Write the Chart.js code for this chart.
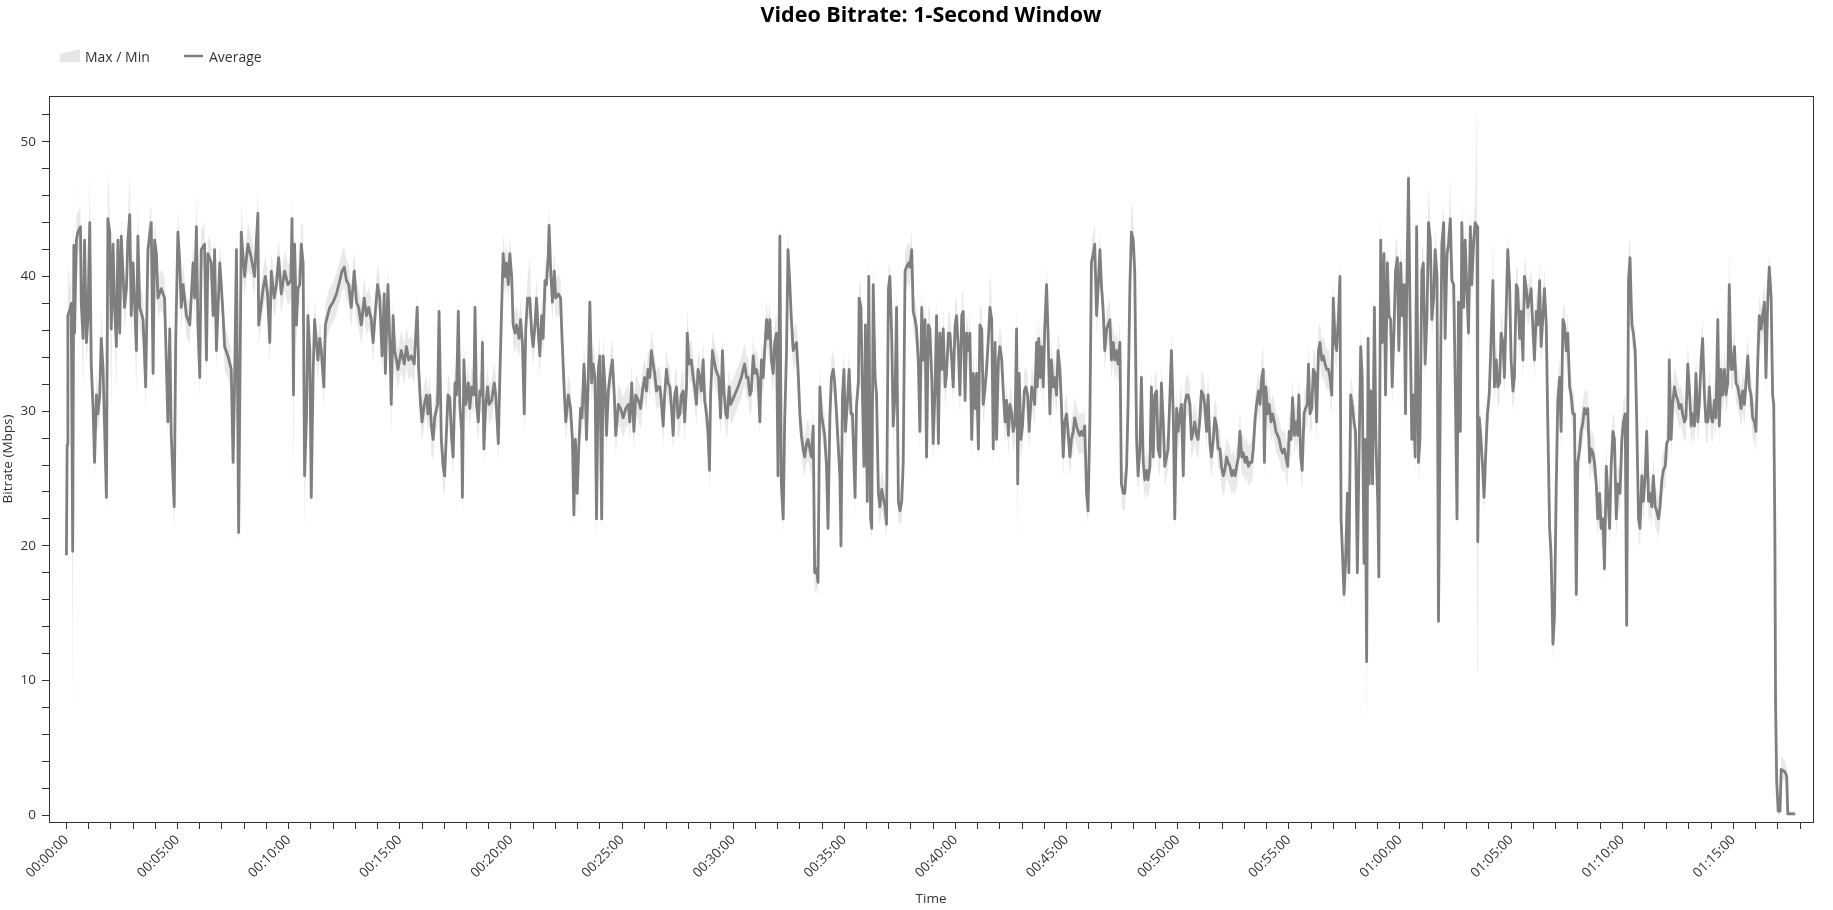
<!DOCTYPE html>
<html>
<head>
<meta charset="utf-8">
<title>Video Bitrate: 1-Second Window</title>
<script src="https://cdn.jsdelivr.net/npm/chart.js@4.4.1/dist/chart.umd.min.js"></script>
<style>
  html, body { margin: 0; padding: 0; background: #fff; }
  canvas { display: block; }
</style>
</head>
<body>
<canvas id="bitrate_chart" width="1833" height="910"></canvas>
<script>
// ---- data ----
const chartTitle = 'Video Bitrate: 1-Second Window';
const legendLabels = ['Max / Min', 'Average'];
const xAxisTitle = 'Time';
const yAxisTitle = 'Bitrate (Mbps)';

// playback time in seconds
const seconds = [
  0,2,4,9,13,17,20,22,27,31,
  38,40,45,49,54,58,63,67,72,76,
  81,85,90,94,99,108,112,117,121,126,
  130,135,139,144,148,157,162,166,171,175,
  180,189,193,198,207,214,220,229,234,238,
  243,247,256,265,274,279,283,291,295,301,
  306,310,315,324,333,342,346,351,355,360,
  364,373,378,382,391,396,400,405,414,418,
  423,427,436,445,450,454,459,465,472,481,
  490,499,508,
  513,517,519,525,531,537,543,549,553,561,
  567,573,580,589,598,606,609,613,616,621,
  625,630,634,639,643,648,652,657,661,666,
  670,675,679,684,688,695,699,705,711,720,
  729,738,744,750,756,762,769,777,783,789,
  796,804,810,816,823,828,834,840,846,852,
  858,861,868,873,877,882,886,891,895,904,
  912,918,924,931,939,947,951,956,960,966,
  972,976,981,985,990,994,1002,1006,1012,1017,
  1021,1026,1030,
  1035,1040,1044,1049,1053,1058,1062,1067,1069,1073,
  1078,1085,1089,1094,1100,1103,1107,1112,1116,1121,
  1123,1127,1132,1137,1141,1148,1155,1159,1166,1170,
  1175,1179,1184,1188,1193,1197,1202,1206,1211,1215,
  1222,1226,1231,1236,1240,1245,1251,1256,1260,1265,
  1269,1274,1278,1283,1287,1292,1296,1301,1303,1308,
  1312,1317,1321,1328,1334,1338,1344,1348,1355,1361,
  1366,1370,1374,1379,1383,1388,1392,1397,1400,1404,
  1409,1413,1418,1422,1427,1431,1436,1440,1445,1449,
  1454,1458,1463,1467,1474,1479,1483,1490,1496,1503,
  1510,1517,1521,1526,1532,1537,1544,1550,1555,
  1561,1566,1570,1575,1579,1584,1588,1593,1597,1602,
  1606,1611,1615,1620,1624,1629,1633,1638,1642,1647,
  1651,1656,1660,1665,1669,1674,1676,1681,1687,1692,
  1696,1701,1705,1710,1714,1719,1723,1728,1732,1736,
  1739,1744,1748,1753,1757,1761,1766,1771,1775,1780,
  1784,1789,1793,1798,1804,1813,1822,1827,1831,1836,
  1840,1845,1849,1854,1858,1863,1867,1872,1876,1881,
  1885,1890,1894,1899,1903,1908,1912,1917,1921,1926,
  1930,1935,1939,1944,1948,1953,1957,1962,1966,1971,
  1975,1980,1984,1989,1993,1998,2002,2007,2011,2016,
  2020,2025,2029,2034,2038,2043,2047,2052,2056,2061,
  2065,2070,2074,2079,
  2088,2091,2095,2099,2103,2108,2113,2118,2122,2129,
  2133,2138,2140,2145,2148,2153,2157,2162,2166,2171,
  2174,2178,2183,2187,2192,2196,2201,2205,2210,2214,
  2219,2223,2228,2232,2237,2241,2246,2250,2255,2259,
  2264,2268,2273,2277,2282,2286,2291,2295,2300,2304,
  2309,2313,2318,2322,2327,2331,2336,2340,2345,2349,
  2354,2358,2363,2367,2372,2376,2381,2385,2390,2394,
  2399,2403,2408,2412,2417,2421,2426,2430,2435,2439,
  2444,2448,2453,2457,2462,2466,2471,2475,2480,2484,
  2489,2493,2498,2502,2507,2511,2516,2520,2525,2529,
  2534,2538,2543,2547,2552,2556,2561,2565,2568,2572,
  2577,2581,2586,2590,2595,2599,2606,2610,
  2614,2619,2621,2625,2629,2632,2637,2641,2646,2650,
  2655,2659,2664,2668,2673,2677,2682,2686,2691,2695,
  2700,2704,2709,2713,2718,2722,2727,2731,2736,2740,
  2745,2749,2754,2758,2763,2767,2772,2776,2781,2785,
  2790,2794,2799,2803,2808,2812,2817,2821,2826,2830,
  2835,2839,2844,2848,2853,2857,2862,2866,2871,2875,
  2880,2884,2889,2893,2898,2902,2907,2911,2916,2920,
  2925,2929,2934,2938,2943,2947,2952,2956,2961,2965,
  2970,2974,2979,2983,2988,2992,2997,3001,3006,3010,
  3015,3019,3024,3028,3033,3037,3042,3046,3051,3055,
  3060,3064,3069,3073,3078,3082,3087,3091,3096,3100,
  3105,3109,3114,3118,3123,3127,3132,3136,
  3141,3146,3150,3155,3159,3164,3168,3173,3177,3182,
  3186,3191,3195,3200,3204,3209,3213,3218,3222,3227,
  3231,3234,3238,3243,3247,3252,3256,3261,3265,3270,
  3274,3279,3283,3288,3292,3297,3301,3306,3310,3315,
  3319,3324,3327,3332,3336,3341,3345,3350,3353,3357,
  3362,3366,3371,3375,3380,3384,3389,3393,3398,3402,
  3407,3411,3416,3420,3425,3429,3434,3438,3441,3444,
  3449,3453,3458,3462,3467,3471,3476,3480,3485,3489,
  3494,3498,3503,3506,3510,3514,3517,3521,3526,3531,
  3535,3540,3543,3548,3552,3557,3561,3566,3570,3575,
  3579,3584,3588,3593,3597,3602,3606,3611,3615,3618,
  3623,3627,3632,3636,3641,3645,3650,3654,3659,3663,
  3668,3673,3677,3682,3686,3691,3695,3700,3704,3709,
  3713,3718,3722,3727,3731,3736,3740,3745,3749,3754,
  3758,3763,3767,3772,3776,3781,3785,3790,3794,3799,
  3803,3808,3810,3814,3818,3823,3827,3832,3836,3841,
  3845,3851,3855,3860,3864,3869,3873,3878,3882,3887,
  3891,3896,3900,3905,3909,3914,3918,3923,3927,3932,
  3936,3941,3945,3950,3954,3959,3963,3968,3972,3977,
  3981,3986,3990,3995,3999,4004,4008,4013,4017,4022,
  4026,4031,4035,4040,4044,4049,4053,4058,4062,4067,
  4071,4076,4080,4085,4089,4094,4098,4103,4107,4112,
  4116,4121,4125,4130,4134,4139,4143,4148,4152,4157,
  4161,4166,4170,4175,4179,4184,4188,
  4194,4199,4203,4208,4212,4217,4221,4226,4230,4235,
  4239,4244,4248,4253,4257,4262,4266,4271,4275,4280,
  4284,4289,4293,4298,4302,4307,4311,4316,4320,4325,
  4327,4332,4336,4341,4345,4350,4354,4359,4363,4368,
  4372,4377,4381,4386,4390,4395,4399,4404,4408,4413,
  4417,4422,4426,4431,4435,4440,4444,4449,4453,4458,
  4462,4467,4471,4476,4480,4485,4489,4494,4498,4503,
  4507,4512,4516,4521,4525,4530,4534,4539,4543,4548,
  4552,4557,4561,4566,4570,4575,4579,4584,4588,4593,
  4597,4602,4606,4609,4612,4614,4617,4621,4626,4629,
  4635,4640,4644,4647,4653,4667
];

// average bitrate, Mbps
const avgMbps = [
  19.3,27.5,37.1,37.5,38.0,19.6,42.3,35.8,42.7,43.3,
  43.7,38.1,35.4,42.7,35.1,36.8,44.0,33.5,30.2,26.2,
  31.2,29.8,31.2,35.4,33.1,23.6,44.3,43.3,36.1,42.4,
  37.7,34.8,42.7,35.8,43.0,37.7,39.1,42.7,44.6,37.1,
  41.0,34.5,43.0,37.7,36.8,31.8,42.0,44.0,32.8,42.7,
  41.7,38.4,39.1,38.4,29.2,36.1,28.2,22.9,35.1,43.3,
  41.0,37.7,39.4,37.1,36.4,41.0,38.4,43.7,36.4,32.5,
  42.0,42.4,33.8,41.7,41.0,37.1,42.0,34.5,41.0,39.4,
  37.1,34.8,34.1,33.1,26.2,32.1,42.0,21.0,43.3,40.0,
  42.4,41.4,40.0,
  42.7,44.7,36.4,37.7,39.1,40.0,38.7,35.1,40.4,38.4,
  39.4,41.4,38.7,40.4,39.4,39.7,44.3,31.2,42.4,36.4,
  39.1,39.4,42.4,41.0,25.2,29.5,37.1,34.5,23.6,32.8,
  36.8,35.1,33.8,35.4,34.5,31.8,36.4,37.1,37.7,38.1,
  38.7,39.7,40.4,40.7,39.7,39.4,37.7,40.4,38.1,37.7,
  36.4,38.4,37.1,37.7,36.8,35.1,37.4,39.4,38.4,34.1,
  38.7,32.8,39.4,35.1,30.5,37.1,34.5,33.8,33.1,34.5,
  33.5,34.8,33.8,34.1,33.5,37.7,33.1,30.5,29.2,30.5,
  31.2,29.8,31.2,28.9,27.9,29.5,30.5,37.4,27.9,25.9,
  25.2,28.5,31.2,
  31.0,27.9,26.6,32.1,31.2,37.4,30.5,28.5,23.6,33.8,
  30.5,32.1,30.2,31.8,31.2,37.7,30.5,29.2,31.5,31.2,
  35.1,27.2,30.5,31.8,30.5,30.8,32.1,31.2,27.6,32.5,
  37.7,41.7,40.0,41.0,39.4,41.7,40.0,36.4,35.8,36.4,
  35.4,36.8,35.1,29.8,36.1,38.4,38.4,35.8,34.8,36.4,
  38.4,35.8,34.1,37.1,35.4,39.7,39.4,41.7,43.8,40.0,
  38.1,40.4,38.4,38.7,38.4,35.4,31.5,29.2,31.2,30.2,
  27.9,22.3,27.9,23.9,27.2,30.2,29.5,33.5,32.1,27.9,
  32.5,38.1,32.1,33.5,32.5,22.0,33.1,34.1,22.0,34.1,
  31.8,28.2,31.5,32.5,33.8,31.2,28.2,30.5,30.2,29.5,
  30.2,30.5,29.2,32.1,28.5,31.2,30.8,30.2,31.5,
  32.5,31.5,33.1,32.5,34.5,33.5,32.8,31.5,31.8,31.8,
  30.8,28.9,31.2,33.1,32.1,31.8,30.5,28.2,31.2,31.8,
  29.5,29.8,31.2,31.5,29.2,31.8,35.8,33.5,33.8,32.5,
  31.8,30.5,33.1,32.5,31.5,33.8,30.8,29.8,28.5,25.6,
  31.2,34.5,33.8,33.1,32.8,32.5,29.5,34.5,31.5,29.8,
  29.5,31.8,30.5,30.8,31.2,31.8,32.5,33.1,33.5,32.5,
  32.5,31.2,31.5,34.1,32.8,33.1,32.5,29.2,33.8,32.5,
  34.5,36.8,35.4,36.8,33.8,32.8,35.1,35.8,25.2,43.0,
  24.6,22.0,29.2,34.5,42.0,39.4,36.8,34.5,34.8,35.1,
  33.1,29.8,28.2,27.2,26.6,27.6,27.9,27.2,26.6,28.9,
  18.0,18.3,17.3,31.8,29.8,28.9,28.2,25.9,21.3,29.5,
  32.5,33.1,32.1,29.8,
  25.2,20.0,31.1,33.1,28.5,30.5,33.1,29.8,29.8,23.6,
  30.5,32.1,38.4,37.7,32.5,25.9,36.4,23.3,40.0,22.0,
  21.3,39.4,32.5,31.2,23.9,22.9,24.2,23.6,22.9,21.6,
  39.1,40.0,35.4,28.9,31.2,37.7,23.3,22.6,23.3,26.2,
  40.4,40.7,41.0,40.7,42.0,37.4,36.8,36.1,33.5,28.5,
  37.7,33.8,36.8,26.6,36.4,36.1,32.5,27.6,31.8,37.1,
  27.6,35.8,33.1,36.1,31.8,32.8,35.8,35.8,33.8,31.8,
  36.4,37.1,34.5,31.2,37.1,37.4,30.8,35.8,34.5,35.8,
  27.9,32.8,30.2,32.8,27.2,36.4,36.1,30.5,31.8,33.1,
  35.4,37.7,36.8,27.2,35.1,27.9,33.8,34.8,33.8,31.5,
  29.2,30.8,28.2,30.5,29.8,28.5,29.2,36.1,24.6,32.8,
  27.9,28.9,31.5,31.8,31.2,28.5,31.8,31.2,
  30.5,35.1,31.8,35.4,32.5,34.8,31.8,36.1,39.4,35.8,
  29.8,33.8,31.8,32.5,31.2,34.5,33.1,30.5,26.6,29.2,
  29.8,28.5,26.6,27.9,28.5,29.5,28.9,28.5,28.2,28.5,
  28.2,28.9,23.9,22.6,29.5,41.0,41.7,42.4,37.1,39.1,
  42.0,39.4,37.4,34.5,36.1,36.4,36.8,33.8,35.1,33.8,
  34.5,33.5,35.1,24.6,23.9,23.9,25.9,30.5,39.4,43.3,
  42.7,40.4,27.9,25.2,27.2,32.5,26.2,24.9,25.6,24.9,
  25.9,31.8,26.6,31.2,31.5,27.2,26.6,32.1,29.2,25.9,
  26.6,27.2,31.2,34.5,29.8,22.0,30.2,28.5,29.8,30.5,
  25.2,30.5,31.2,31.2,30.5,27.9,28.5,29.2,28.2,27.9,
  29.5,31.5,31.2,30.5,28.5,31.2,27.6,26.6,27.9,29.5,
  28.9,27.2,27.2,25.9,25.2,25.6,26.6,26.2,
  25.9,25.2,25.6,25.2,25.9,26.6,28.5,26.6,26.9,26.2,
  26.6,25.9,26.2,26.2,27.2,29.5,30.5,31.5,30.5,32.5,
  33.1,26.2,31.8,29.8,30.5,29.2,29.8,29.2,28.5,28.2,
  27.9,27.2,26.9,27.2,26.6,25.9,28.5,27.9,31.0,28.2,
  29.2,28.2,31.2,26.6,25.6,29.8,30.2,30.5,33.5,29.8,
  30.2,33.1,32.8,29.2,34.5,35.1,33.8,34.1,33.5,33.1,
  33.1,32.5,31.2,38.4,35.1,34.5,37.1,40.0,22.0,20.0,
  16.4,18.7,23.9,18.0,31.2,30.5,29.2,28.5,18.0,25.9,
  34.8,32.5,18.7,27.9,11.4,35.4,24.6,31.5,24.6,37.7,
  27.9,23.3,17.7,42.7,35.1,41.7,31.2,41.0,37.1,36.8,
  31.8,36.1,40.4,41.4,34.5,41.0,37.1,39.4,29.8,38.4,
  47.3,37.7,27.9,31.2,26.6,43.7,26.2,27.9,40.4,41.0,
  33.5,37.1,44.0,42.7,36.8,38.4,42.0,40.0,14.4,31.2,
  42.4,44.0,35.4,41.7,42.4,44.3,39.7,39.4,32.5,22.0,
  38.1,28.5,44.0,37.7,42.7,38.7,35.8,43.7,39.4,42.7,
  44.0,43.7,20.3,29.5,28.2,25.9,23.6,27.2,29.8,31.2,
  34.5,39.7,31.8,33.8,31.8,32.1,35.8,35.1,32.5,37.7,
  42.0,39.4,33.8,31.5,32.5,39.4,39.1,35.4,37.4,33.8,
  40.0,39.1,37.7,38.4,39.1,36.1,33.8,37.4,36.4,39.7,
  34.8,37.1,39.1,36.4,29.2,21.3,19.3,12.7,14.7,24.6,
  30.8,32.5,28.5,36.8,36.4,34.5,35.8,31.8,31.2,29.8,
  29.8,16.4,26.2,27.2,28.5,29.2,30.2,29.8,30.2,26.2,
  27.2,26.9,26.2,24.6,22.0,23.9,21.3,22.0,18.3,25.9,
  23.9,21.3,25.9,28.5,27.9,22.0,24.6,
  23.9,27.9,29.2,29.8,14.1,39.7,41.4,36.4,35.8,34.5,
  29.5,22.0,21.3,25.2,23.3,25.2,28.5,23.3,23.9,22.9,
  25.2,22.9,22.6,22.0,22.9,24.9,25.6,25.9,27.6,27.9,
  33.8,27.9,30.5,31.8,31.2,30.8,30.2,30.5,29.8,29.2,
  29.5,33.5,31.8,28.9,29.8,28.9,32.8,29.2,30.5,33.8,
  35.4,31.2,29.2,29.2,31.8,29.5,29.2,30.8,29.5,36.8,
  28.9,33.1,31.2,33.1,31.2,32.1,39.4,33.1,33.1,34.8,
  32.1,31.8,31.2,30.2,31.5,30.5,32.1,34.1,31.8,31.2,
  29.5,29.2,28.5,33.8,37.1,36.1,37.1,38.1,32.5,38.4,
  40.7,38.4,31.2,30.5,21.3,8.1,2.5,0.3,0.3,3.4,
  3.3,3.2,2.9,0.1,0.1,0.1
];

// highest 1-second value in each window, Mbps
const maxMbps = [
  21.0,29.0,41.0,39.0,40.5,22.0,47.8,37.5,44.5,44.8,
  45.2,40.0,37.0,44.2,37.0,38.5,48.1,35.0,32.0,27.8,
  33.0,31.5,33.0,37.5,35.0,25.5,48.0,45.0,37.5,44.0,
  39.5,36.5,44.5,37.5,44.5,39.5,40.5,44.5,47.8,38.5,
  42.5,36.0,45.8,39.5,38.5,33.5,43.5,45.5,34.5,44.0,
  43.0,40.0,40.5,40.0,31.0,38.0,30.0,24.5,37.0,45.0,
  42.5,39.5,41.0,38.5,38.0,42.5,40.0,46.3,38.0,34.0,
  43.5,44.0,35.5,43.0,42.5,38.5,43.5,36.0,42.5,41.0,
  38.5,36.5,35.5,34.5,28.0,33.5,43.5,23.0,45.6,41.5,
  44.0,43.0,41.5,
  44.2,46.6,38.0,39.2,40.6,41.5,40.2,36.6,41.9,39.9,
  40.9,42.8,40.2,41.9,40.9,41.2,46.3,32.7,43.9,37.9,
  40.6,40.9,43.9,43.8,26.7,31.0,38.6,36.0,25.1,34.3,
  38.3,36.6,35.3,36.9,36.0,33.3,37.9,38.6,39.2,39.6,
  40.2,41.2,41.9,42.2,41.2,40.9,39.2,41.9,39.6,39.2,
  37.9,39.9,38.6,39.2,38.3,36.6,38.9,40.9,39.9,35.6,
  40.2,34.3,40.9,36.6,32.0,38.6,36.0,35.3,34.6,36.0,
  35.0,36.3,35.3,35.6,35.0,38.8,34.6,32.0,30.7,32.0,
  32.7,31.3,32.7,30.4,29.4,31.0,32.0,38.5,29.4,27.4,
  26.7,30.0,32.7,
  32.5,29.4,28.1,33.6,32.7,38.7,32.0,30.0,25.1,35.3,
  32.0,33.6,31.7,33.3,32.7,38.7,32.0,30.7,33.0,32.7,
  36.6,28.7,32.0,33.3,32.0,32.3,33.6,32.7,29.1,34.0,
  39.2,43.3,41.5,42.5,40.9,43.0,41.5,37.9,37.3,37.9,
  36.9,38.3,36.6,31.3,37.6,39.9,41.4,37.3,36.3,37.9,
  39.9,37.3,35.6,38.6,36.9,41.2,40.9,43.2,45.3,41.5,
  39.6,41.9,39.9,40.2,39.9,36.9,33.0,30.7,32.7,31.7,
  29.4,23.8,29.4,25.4,28.7,31.7,31.0,35.0,33.6,29.4,
  34.0,38.7,33.6,35.0,34.0,23.5,34.6,35.6,23.5,35.6,
  33.3,29.7,33.0,34.0,35.4,32.7,29.7,32.0,31.7,31.0,
  31.7,32.0,30.7,33.6,30.0,32.7,32.3,31.7,33.0,
  34.0,33.0,34.6,34.0,36.0,35.0,34.3,33.0,33.3,33.3,
  32.3,30.4,32.7,34.6,33.6,33.3,32.0,29.7,32.7,33.3,
  31.0,31.3,32.7,33.0,30.7,33.3,37.7,35.0,35.3,34.0,
  33.3,32.0,34.6,34.0,33.0,35.3,32.3,31.3,30.0,27.1,
  32.7,36.0,35.3,34.6,34.3,34.0,31.0,35.6,33.0,31.3,
  31.0,33.3,32.0,32.3,32.7,33.3,34.0,34.6,35.0,34.0,
  34.0,32.7,33.0,35.6,34.3,34.6,34.0,30.7,35.3,34.0,
  36.0,38.3,36.9,38.3,35.3,34.3,36.6,37.3,26.7,44.7,
  26.1,23.5,30.7,36.0,43.3,40.9,38.3,36.0,36.3,36.6,
  34.6,31.3,29.7,28.7,28.1,29.1,29.4,28.7,28.1,30.4,
  19.5,19.8,18.8,33.3,31.3,30.4,29.7,27.4,22.8,31.0,
  34.0,34.6,33.6,31.3,
  26.7,21.5,32.6,34.6,30.0,32.0,34.6,31.3,31.3,25.1,
  32.0,33.6,39.7,39.2,34.0,27.4,37.9,24.8,42.0,23.5,
  22.8,41.0,34.0,32.7,25.4,24.4,25.7,25.1,24.4,23.1,
  40.6,41.0,36.9,30.4,32.7,39.0,24.8,24.1,24.8,27.7,
  41.9,42.2,42.5,42.2,43.5,38.9,38.3,37.6,35.0,30.0,
  39.2,35.3,38.3,28.1,37.9,37.6,34.0,29.1,33.3,38.6,
  29.1,37.3,34.6,37.6,33.3,34.3,37.3,37.3,35.3,33.3,
  38.0,38.6,36.0,32.7,38.6,38.9,32.3,37.3,36.0,37.3,
  29.4,34.3,31.7,34.3,28.7,37.9,37.6,32.0,33.3,34.6,
  36.9,40.4,38.3,28.7,36.6,29.4,35.3,36.3,35.3,33.0,
  30.7,32.3,29.7,32.0,31.3,30.0,30.7,37.9,26.1,34.3,
  29.4,30.4,33.0,33.3,32.7,30.0,33.3,32.7,
  32.0,36.3,33.3,36.9,34.0,36.3,33.3,37.6,40.7,37.3,
  31.3,35.3,33.3,34.0,32.7,36.0,34.6,32.0,28.1,30.7,
  31.3,30.0,28.1,29.4,30.0,31.0,30.4,30.0,29.7,30.0,
  29.7,30.4,25.4,24.1,31.0,42.5,43.2,44.0,38.6,40.6,
  43.3,40.9,38.9,36.0,37.6,37.9,38.3,35.3,36.6,35.3,
  36.0,35.0,36.6,26.1,25.4,25.4,27.4,32.0,40.9,45.6,
  44.2,41.9,29.4,26.7,28.7,34.0,27.7,26.4,27.1,26.4,
  27.4,33.3,28.1,32.7,33.0,28.7,28.1,33.6,30.7,27.4,
  28.1,28.7,32.7,35.8,31.3,23.5,31.7,30.0,31.3,32.0,
  26.7,32.0,32.7,32.7,32.0,29.4,30.0,30.7,29.7,29.4,
  31.0,33.0,32.7,32.0,30.0,32.7,29.1,28.1,29.4,31.0,
  30.4,28.7,28.7,27.4,26.7,27.1,28.1,27.7,
  27.4,26.7,27.1,26.7,27.4,28.1,30.0,28.1,28.4,27.7,
  28.1,27.4,27.7,27.7,28.7,31.0,32.0,33.0,32.0,34.0,
  34.9,27.7,33.3,31.3,32.0,30.7,31.3,30.7,30.0,29.7,
  29.4,28.7,28.4,28.7,28.1,27.4,30.0,29.4,32.5,29.7,
  30.7,29.7,32.7,28.1,27.1,31.3,31.7,32.0,35.0,31.3,
  31.7,34.6,34.3,30.7,36.0,36.6,35.3,35.6,35.0,34.6,
  34.6,34.0,32.7,39.6,36.6,36.0,38.6,41.0,23.5,21.5,
  17.9,20.2,25.4,19.5,32.7,32.0,30.7,30.0,19.5,27.4,
  36.3,34.0,20.2,29.4,12.9,36.9,26.1,33.0,26.1,39.2,
  29.4,24.8,19.2,45.0,36.6,43.2,32.7,42.5,38.6,38.3,
  33.3,37.6,42.5,42.9,36.0,42.5,38.6,40.9,31.3,39.9,
  48.4,39.2,29.4,32.7,28.1,45.3,27.7,29.4,41.9,42.5,
  35.0,38.6,46.8,44.2,38.3,39.9,43.5,41.5,15.9,32.7,
  43.9,45.5,36.9,43.2,43.9,47.4,41.2,40.9,34.0,23.5,
  39.6,30.0,46.0,39.2,44.2,40.2,37.3,45.0,40.9,44.2,
  45.5,52.9,21.8,31.0,29.7,27.4,25.1,28.7,31.3,32.7,
  36.0,42.7,33.3,35.3,33.3,33.6,37.3,36.6,34.0,39.2,
  43.0,40.9,35.3,33.0,34.0,40.9,40.6,36.9,38.9,35.3,
  41.5,40.6,39.2,39.9,40.6,37.6,35.3,38.9,37.9,41.2,
  36.3,38.6,40.6,37.9,30.7,22.8,20.8,14.2,16.2,26.1,
  32.3,34.0,30.0,37.9,37.9,36.0,37.3,33.3,32.7,31.3,
  31.3,17.9,27.7,28.7,30.0,30.7,31.7,31.3,31.7,27.7,
  28.7,28.4,27.7,26.1,23.5,25.4,22.8,23.5,19.8,27.4,
  25.4,22.8,27.4,30.0,29.4,23.5,26.1,
  25.4,29.4,30.7,31.3,15.6,42.0,42.9,37.9,37.3,36.0,
  31.0,23.5,22.8,26.7,24.8,26.7,30.0,24.8,25.4,24.4,
  26.7,24.4,24.1,23.5,24.4,26.4,27.1,27.4,29.1,29.4,
  35.3,29.4,32.0,33.3,32.7,32.3,31.7,32.0,31.3,30.7,
  31.0,35.0,33.3,30.4,31.3,30.4,34.3,30.7,32.0,35.3,
  36.9,32.7,30.7,30.7,33.3,31.0,30.7,32.3,31.0,38.3,
  30.4,34.6,32.7,34.6,32.7,33.6,42.0,34.6,34.6,36.3,
  33.6,33.3,32.7,31.7,33.0,32.0,33.6,35.6,33.3,32.7,
  31.0,30.7,30.0,35.3,38.6,37.6,38.6,39.6,34.0,39.9,
  41.7,39.9,32.7,32.0,22.8,9.6,3.5,0.8,0.8,4.4,
  4.2,4.0,3.6,0.4,0.3,0.3
];

// lowest 1-second value in each window, Mbps
const minMbps = [
  18.5,26.0,35.5,36.0,36.5,7.2,40.5,34.0,41.0,41.5,
  42.0,36.5,31.5,41.0,33.5,35.0,42.5,32.0,28.5,25.0,
  29.5,28.5,29.5,34.0,31.5,22.0,42.5,41.5,29.8,40.5,
  36.0,31.5,41.0,34.0,41.5,36.0,37.5,41.0,43.0,35.5,
  39.5,31.2,41.5,36.0,35.0,30.0,40.5,42.5,31.0,41.0,
  40.0,37.0,37.5,37.0,27.8,34.5,26.5,21.0,33.5,41.5,
  39.5,36.0,38.0,35.5,35.0,39.5,37.0,42.0,35.0,31.0,
  40.5,40.5,31.5,40.0,39.5,35.5,40.5,33.0,39.5,38.0,
  35.5,33.0,32.5,31.5,24.5,30.5,40.5,19.7,41.5,38.5,
  40.5,40.0,38.5,
  41.2,43.0,34.9,36.2,37.6,38.5,37.2,33.4,38.9,36.9,
  37.9,39.9,37.2,38.9,37.9,38.2,42.8,24.2,40.9,34.9,
  37.6,37.9,40.9,39.5,21.3,28.0,35.6,33.0,22.5,31.3,
  35.3,33.6,32.3,33.9,33.0,30.3,34.9,35.6,36.2,36.6,
  37.2,38.2,38.9,39.2,38.2,37.9,36.2,38.9,36.6,36.2,
  34.9,36.9,35.6,36.2,35.3,33.6,35.9,37.9,36.9,32.6,
  37.2,31.3,37.9,33.6,28.2,35.6,33.0,32.3,31.6,33.0,
  32.0,33.3,32.3,32.6,32.0,36.2,31.6,29.0,27.7,29.0,
  29.7,28.3,29.7,26.8,26.4,28.0,29.0,35.9,26.4,24.2,
  23.7,27.0,29.7,
  29.5,26.4,25.1,30.6,29.7,35.9,29.0,27.0,22.1,32.3,
  29.0,30.6,28.7,30.3,29.7,36.2,29.0,27.7,30.0,29.7,
  33.6,25.9,29.0,30.3,29.0,29.3,30.6,29.7,26.2,31.0,
  36.2,40.2,38.5,39.5,37.9,40.2,38.5,34.9,34.3,34.9,
  33.9,35.3,33.6,28.2,34.6,36.9,36.9,34.3,33.3,34.9,
  36.9,34.3,32.6,35.6,33.9,38.2,37.9,40.2,42.3,38.5,
  36.6,38.9,36.9,37.2,36.9,33.9,30.0,27.7,29.7,28.7,
  26.4,21.0,26.4,22.4,25.7,28.7,28.0,32.0,30.6,26.8,
  31.0,36.6,30.6,32.0,31.0,20.3,31.6,32.6,20.8,32.6,
  30.3,26.7,30.0,31.0,32.3,29.7,26.7,29.0,28.7,28.0,
  28.7,29.0,27.7,30.6,27.0,29.7,29.3,28.7,30.0,
  31.0,30.0,31.6,31.0,33.0,32.0,31.3,30.0,30.3,30.3,
  29.3,27.4,29.7,31.6,30.6,30.3,29.0,27.0,29.7,30.3,
  28.0,28.3,29.7,30.0,27.7,30.3,34.3,32.0,32.3,31.0,
  30.3,29.0,31.6,31.0,30.0,32.3,29.3,28.3,27.0,24.1,
  29.7,33.0,32.3,31.6,31.3,31.0,28.0,33.0,30.0,28.3,
  28.0,30.3,29.0,29.3,29.7,30.3,31.0,31.6,32.0,31.0,
  31.0,29.7,30.0,32.6,31.3,31.6,31.0,28.2,32.3,31.0,
  33.0,35.3,33.9,35.3,32.3,31.3,33.6,34.3,23.7,41.5,
  23.1,21.0,27.7,33.0,40.5,37.9,35.3,33.0,33.3,33.6,
  31.6,28.3,26.7,25.7,25.1,26.1,26.4,25.7,25.1,27.4,
  16.5,16.8,16.2,30.3,28.3,27.4,26.7,24.4,20.3,28.0,
  31.0,31.6,30.6,28.3,
  23.7,19.0,29.6,31.6,27.0,29.0,31.6,28.3,28.3,22.0,
  29.0,30.6,36.9,36.2,31.0,24.4,34.9,21.8,38.5,20.5,
  20.8,37.9,31.0,29.7,22.4,21.4,22.7,22.1,21.4,20.6,
  37.6,38.5,33.9,27.4,29.7,36.2,21.8,21.6,21.8,24.7,
  38.9,39.2,39.5,39.2,40.5,35.9,35.3,34.6,32.0,26.9,
  36.2,32.3,35.3,25.4,34.9,34.6,31.0,26.1,30.3,35.6,
  26.1,34.3,31.6,34.6,30.3,31.3,34.3,34.3,32.3,30.3,
  34.9,35.6,33.0,29.7,35.6,35.9,29.3,34.3,33.0,34.3,
  26.4,31.3,28.7,31.3,25.7,34.9,34.6,29.0,30.3,31.6,
  33.9,36.2,35.3,25.7,33.6,26.4,32.3,33.3,32.3,30.0,
  27.7,29.3,26.7,29.0,28.3,27.0,27.7,34.6,20.3,31.3,
  26.4,27.4,30.0,30.3,29.7,27.0,30.3,29.7,
  29.0,33.6,30.3,33.9,31.0,33.3,30.3,34.6,37.9,34.3,
  28.3,32.3,30.3,31.0,29.7,33.0,31.6,29.0,25.2,27.7,
  28.3,27.0,25.1,26.4,27.0,28.0,27.4,27.0,26.7,27.0,
  26.7,27.4,22.4,21.6,28.0,39.5,40.2,40.9,35.6,37.6,
  40.5,37.9,35.9,33.0,34.6,34.9,35.3,32.3,33.6,32.3,
  33.0,32.0,33.6,23.1,22.6,22.6,24.4,29.0,37.9,41.8,
  41.2,38.9,26.4,23.7,25.7,31.0,24.7,23.4,24.1,23.4,
  24.4,30.3,25.1,29.7,30.0,25.7,25.1,30.6,27.7,24.4,
  25.1,25.7,29.7,33.0,28.3,21.0,28.7,27.0,28.3,29.0,
  24.2,29.0,29.7,29.7,29.0,26.4,27.0,27.7,26.7,26.4,
  28.0,30.0,29.7,29.0,27.0,29.7,26.1,25.1,26.4,28.0,
  27.4,25.7,25.7,24.4,23.7,24.1,25.1,24.7,
  24.4,23.7,24.1,23.7,24.4,25.1,27.0,25.1,25.4,24.7,
  25.1,24.4,24.7,24.7,25.7,28.0,29.0,30.0,29.0,31.0,
  31.6,25.0,30.3,28.3,29.0,27.7,28.3,27.7,27.0,26.7,
  26.4,25.7,25.4,25.7,25.1,24.4,27.0,26.4,29.5,26.7,
  27.7,26.7,29.7,25.1,24.1,28.3,28.7,29.0,32.0,28.3,
  28.7,31.6,31.3,27.7,33.0,33.6,32.3,32.6,32.0,31.6,
  31.6,31.0,29.7,36.9,33.6,33.0,35.6,38.5,20.5,18.5,
  15.4,17.2,22.4,16.5,29.7,29.0,27.7,27.0,17.0,24.4,
  33.3,31.0,17.5,26.4,6.3,33.9,23.1,30.0,23.1,36.2,
  26.4,21.8,16.5,41.2,33.6,40.2,29.7,39.5,35.6,35.3,
  30.3,34.6,38.9,39.9,33.0,39.5,35.6,37.9,28.3,36.9,
  45.8,36.2,26.4,29.7,25.1,42.2,24.7,26.4,38.9,39.5,
  32.0,35.6,42.5,41.2,35.3,36.9,40.5,38.5,13.3,29.7,
  40.9,42.5,33.9,40.2,40.9,42.8,38.2,37.9,31.0,21.0,
  36.6,27.0,42.5,36.2,41.2,37.2,34.3,42.2,37.9,41.2,
  42.5,42.2,10.7,28.0,26.7,24.4,22.6,25.7,28.3,29.7,
  33.0,38.2,30.3,32.3,30.3,30.6,34.3,33.6,31.0,36.2,
  40.5,37.9,32.3,30.0,31.0,37.9,37.6,33.9,35.9,32.3,
  38.5,37.6,36.2,36.9,37.6,34.6,32.3,35.9,34.9,38.2,
  33.3,35.6,37.6,34.9,27.7,19.8,17.8,11.5,13.2,23.1,
  29.3,31.0,27.0,35.3,34.9,33.0,34.3,30.3,29.7,28.3,
  28.3,15.2,24.7,25.7,27.0,27.7,28.7,28.3,28.7,24.7,
  25.7,25.4,24.7,23.1,20.5,22.4,19.8,20.5,17.3,24.4,
  22.4,19.8,24.4,27.0,26.4,20.5,23.1,
  22.4,26.4,27.7,28.3,12.9,38.2,39.9,34.9,34.3,33.0,
  28.0,20.5,19.8,23.7,21.8,23.7,27.0,21.8,22.4,21.4,
  23.7,21.4,21.1,20.5,21.4,23.4,24.1,24.4,26.1,26.4,
  32.3,26.4,29.0,30.3,29.7,29.3,28.7,29.0,28.3,27.7,
  28.0,32.0,30.3,27.4,28.3,27.4,31.3,27.7,29.0,32.3,
  33.9,29.7,27.7,27.7,30.3,28.0,27.7,29.3,28.0,35.3,
  27.4,31.6,29.7,31.6,29.7,30.6,37.9,31.6,31.6,33.3,
  30.6,30.3,29.7,28.7,30.0,29.0,30.6,32.6,30.3,29.7,
  28.0,27.7,27.0,32.3,35.6,34.6,35.6,36.6,31.0,36.9,
  39.2,36.9,29.7,29.0,19.8,6.6,1.5,0.0,0.0,2.6,
  2.6,2.5,2.2,0.0,0.0,0.0
];

// axis ranges and ticks
const xRange = [-47, 4715];     // seconds
const yRange = [-0.5, 53.4];    // Mbps
const xTickStep = 60;           // a tick each minute
const xLabelStep = 300;         // a label every 5 minutes
const yTickStep = 2;
const yLabelStep = 10;

const AXIS = '#333333';
const TEXT = '#333333';
const LINE = '#7f7f7f';
const BAND = '#e9e9e9';
const FONT = "'Open Sans', 'Noto Sans', sans-serif";

Chart.defaults.font.family = FONT;
Chart.defaults.color = TEXT;

function hms(s) {
    const h = Math.floor(s / 3600), m = Math.floor(s / 60) % 60, sec = s % 60;
    return [h, m, sec].map(n => String(n).padStart(2, '0')).join(':');
}

const n = Math.min(seconds.length, avgMbps.length, maxMbps.length, minMbps.length);
function points(values) {
    const out = [];
    for (let i = 0; i < n; i++) out.push({x: seconds[i], y: values[i]});
    return out;
}

// frame around the plot plus the title and the legend above it
const headerAndFrame = {
    id: 'headerAndFrame',
    afterDraw(chart) {
        const {ctx, chartArea: a} = chart;
        ctx.save();

        ctx.strokeStyle = AXIS;
        ctx.lineWidth = 1;
        ctx.strokeRect(Math.round(a.left) + 0.5, Math.round(a.top) + 0.5,
            Math.round(a.right) - Math.round(a.left), Math.round(a.bottom) - Math.round(a.top));

        ctx.fillStyle = '#000';
        ctx.font = 'bold 21.5px ' + FONT;
        ctx.textAlign = 'center';
        ctx.textBaseline = 'alphabetic';
        ctx.fillText(chartTitle, (a.left + a.right) / 2, 22);

        // legend: Max / Min
        ctx.fillStyle = '#e6e6e6';
        ctx.beginPath();
        ctx.moveTo(60, 62);
        ctx.lineTo(60, 54);
        ctx.lineTo(80, 49);
        ctx.lineTo(80, 62);
        ctx.closePath();
        ctx.fill();

        ctx.font = '14px ' + FONT;
        ctx.textAlign = 'left';
        ctx.fillStyle = TEXT;
        ctx.fillText(legendLabels[0], 85, 62);

        // legend: Average
        ctx.strokeStyle = LINE;
        ctx.lineWidth = 2.5;
        ctx.beginPath();
        ctx.moveTo(184, 56);
        ctx.lineTo(203, 56);
        ctx.stroke();
        ctx.fillText(legendLabels[1], 209, 62);

        ctx.restore();
    }
};

const ctx = document.getElementById('bitrate_chart').getContext('2d');

const config = {
    type: 'line',
    data: {
        datasets: [{
            label: legendLabels[0],
            data: points(maxMbps),
            fill: '+1',
            backgroundColor: BAND,
            borderColor: 'rgba(0,0,0,0)',
            borderWidth: 0,
            pointRadius: 0,
        }, {
            label: 'Min',
            data: points(minMbps),
            fill: false,
            borderColor: 'rgba(0,0,0,0)',
            borderWidth: 0,
            pointRadius: 0,
        }, {
            label: legendLabels[1],
            data: points(avgMbps),
            fill: false,
            borderColor: LINE,
            borderWidth: 2.8,
            borderJoinStyle: 'round',
            pointRadius: 0,
            order: -1,
        }],
    },
    options: {
        responsive: false,
        animation: false,
        events: [],
        layout: {
            padding: {top: 96, right: 20, left: 0, bottom: 0},
        },
        plugins: {
            legend: {display: false},
            title: {display: false},
            tooltip: {enabled: false},
        },
        scales: {
            x: {
                type: 'linear',
                min: xRange[0],
                max: xRange[1],
                afterFit: (scale) => { scale.height = 88; },
                border: {display: false},
                grid: {drawOnChartArea: false, drawTicks: true, tickLength: 7, color: AXIS},
                ticks: {
                    stepSize: xTickStep,
                    includeBounds: false,
                    autoSkip: false,
                    minRotation: 45,
                    maxRotation: 45,
                    padding: 3,
                    color: TEXT,
                    font: {size: 13.5},
                    callback: (v) => (v % xLabelStep === 0 ? hms(v) : ''),
                },
                title: {
                    display: true,
                    text: xAxisTitle,
                    color: TEXT,
                    font: {size: 13.5},
                    padding: {top: 0, bottom: 3},
                },
            },
            y: {
                min: yRange[0],
                max: yRange[1],
                afterFit: (scale) => { scale.width = 49; },
                border: {display: false},
                grid: {drawOnChartArea: false, drawTicks: true, tickLength: 7, color: AXIS},
                ticks: {
                    stepSize: yTickStep,
                    includeBounds: false,
                    autoSkip: false,
                    padding: 6,
                    color: TEXT,
                    font: {size: 13.5},
                    callback: (v) => (v % yLabelStep === 0 ? String(v) : ''),
                },
                title: {
                    display: true,
                    text: yAxisTitle,
                    color: TEXT,
                    font: {size: 13.5},
                    padding: {top: 0, bottom: 0},
                },
            },
        },
    },
    plugins: [headerAndFrame],
};

const chart = new Chart(ctx, config);
</script>
</body>
</html>
